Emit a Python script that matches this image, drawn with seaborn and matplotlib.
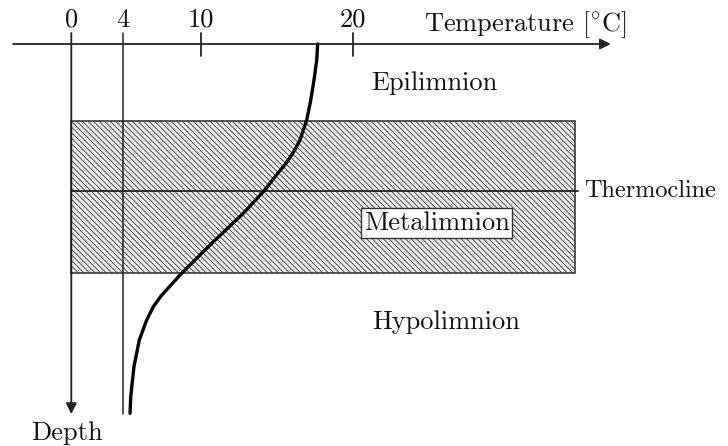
import matplotlib
matplotlib.use("Agg")
import matplotlib.pyplot as plt
import seaborn as sns
import pandas as pd
from matplotlib.patches import Rectangle

# ---- data (schematic units: temperature along x, depth along y) ----
tick_labels = ["0", "4", "10", "20"]
tick_positions = [0, 4, 10, 21.65]          # schematic positions of the ticks
profile_temp = [18.95, 18.88, 18.67, 18.42, 18.11, 17.59, 17.28, 16.95, 16.48, 15.90,
                14.77, 13.23, 10.67, 8.36, 7.67, 6.90, 6.31, 5.80, 5.23, 4.82, 4.57, 4.52]
profile_depth = [0.0, 1.6, 3.6, 5.6, 7.6, 9.6, 10.4, 11.1, 12.0, 12.9,
                 14.77, 16.93, 20.1, 23.1, 24.1, 25.2, 26.27, 27.6, 29.6, 32.27, 35.27, 36.93]
metalimnion_top = 7.7
metalimnion_bottom = 22.9
thermocline_depth = 14.7
max_depth = 37.0
axis_temp_range = [-4.48, 41.5]
layer_right = 38.75
layer_names = ["Epilimnion", "Metalimnion", "Hypolimnion"]

sns.set_theme(style="white")
plt.rcParams["font.family"] = ["cmr10", "DejaVu Serif"]
plt.rcParams["mathtext.fontset"] = "cm"
plt.rcParams["axes.unicode_minus"] = False
plt.rcParams["hatch.linewidth"] = 0.6
plt.rcParams["hatch.color"] = "#b4b4b4"

fig = plt.figure(figsize=(7.28, 4.46), dpi=100)
ax = fig.add_axes([0, 0, 1, 1])
ax.set_xlim((0 - 71.3) / 13, (728 - 71.3) / 13)
ax.set_ylim((446 - 44) / 10, (0 - 44) / 10)
ax.axis("off")

fs = 19
line_col = "#222222"
txt_col = "#111111"

# metalimnion band
ax.add_patch(Rectangle((0, metalimnion_top), layer_right, metalimnion_bottom - metalimnion_top,
                       facecolor="#ebebeb", edgecolor="#3a3a3a", hatch="\\\\\\\\\\\\",
                       linewidth=1.2, zorder=1))

# thermocline line
ax.plot([0, layer_right + 0.25], [thermocline_depth, thermocline_depth],
        color=line_col, lw=1.3, zorder=3)

# temperature axis with arrow
ax.annotate("", xy=(axis_temp_range[1], 0), xytext=(axis_temp_range[0], 0),
            arrowprops=dict(arrowstyle="-|>", color=line_col, lw=1.3,
                            mutation_scale=16, shrinkA=0, shrinkB=0), zorder=4)

# depth axis (0 line) with arrow
ax.annotate("", xy=(tick_positions[0], max_depth), xytext=(tick_positions[0], -1.1),
            arrowprops=dict(arrowstyle="-|>", color=line_col, lw=1.3,
                            mutation_scale=16, shrinkA=0, shrinkB=0), zorder=4)

# 4 degC line
ax.plot([tick_positions[1], tick_positions[1]], [-1.1, max_depth], color=line_col,
        lw=1.1, zorder=3)

# ticks 10 and 20
for p in tick_positions[2:]:
    ax.plot([p, p], [-1.1, 1.2], color=line_col, lw=1.3, zorder=4)

for p, lab in zip(tick_positions, tick_labels):
    ax.text(p, -2.4, lab, ha="center", va="center", fontsize=fs, color=txt_col)

ax.text(27.1, -1.9, r"Temperature $[^{\circ}\mathrm{C}]$", ha="left", va="center",
        fontsize=fs, color=txt_col)
ax.text(-0.33, 38.9, "Depth", ha="center", va="center", fontsize=fs, color=txt_col)

# temperature profile
df = pd.DataFrame({"temp": profile_temp, "depth": profile_depth})
sns.lineplot(data=df, x="temp", y="depth", sort=False, estimator=None,
             color="black", lw=2.4, ax=ax, zorder=5)
ax.set_xlabel("")
ax.set_ylabel("")

# labels
ax.text(27.9, 3.9, layer_names[0], ha="center", va="center", fontsize=fs, color=txt_col)
ax.text(28.1, 17.9, layer_names[1], ha="center", va="center", fontsize=fs, color=txt_col,
        bbox=dict(boxstyle="square,pad=0.1", facecolor="white", edgecolor="#333333", lw=1.0),
        zorder=6)
ax.text(28.8, 27.8, layer_names[2], ha="center", va="center", fontsize=fs, color=txt_col)
ax.text(39.45, thermocline_depth, "Thermocline", ha="left", va="center", fontsize=17.5,
        color=txt_col)

fig.savefig("out.png", dpi=100, facecolor="white")
